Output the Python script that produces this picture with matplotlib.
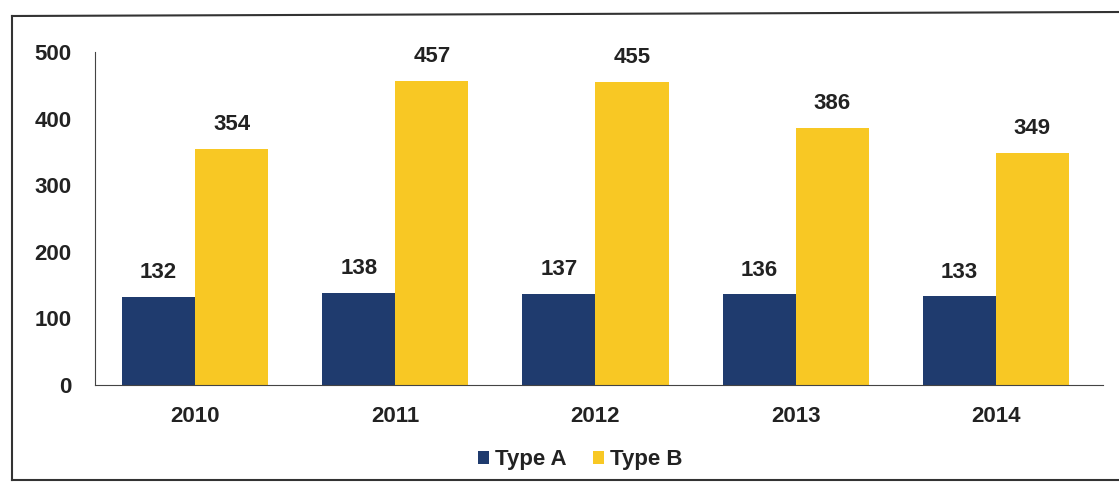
import matplotlib.pyplot as plt
import numpy as np
from matplotlib.lines import Line2D

# Data
years = ["2010", "2011", "2012", "2013", "2014"]
type_a = [132, 138, 137, 136, 133]
type_b = [354, 457, 455, 386, 349]
yticks = [0, 100, 200, 300, 400, 500]

COLOR_A = "#1f3b6e"
COLOR_B = "#f8c824"
TXT = "#222222"

plt.rcParams['font.family'] = ['Liberation Sans', 'DejaVu Sans']

fig = plt.figure(figsize=(11.19, 4.84), dpi=100)
ax = fig.add_axes([95 / 1119, 99 / 484, 1008 / 1119, 333 / 484])

x = np.arange(len(years))
w = 0.365
bars_a = ax.bar(x - w / 2, type_a, w, color=COLOR_A, label="Type A")
bars_b = ax.bar(x + w / 2, type_b, w, color=COLOR_B, label="Type B")

for bars in (bars_a, bars_b):
  for b in bars:
    ax.annotate(f"{int(b.get_height())}", (b.get_x() + b.get_width() / 2, b.get_height()),
                xytext=(0, 10), textcoords="offset points", ha="center", va="bottom",
                fontsize=16, fontweight="bold", color=TXT)

ax.set_xlim(-0.5, len(years) - 0.5 + 0.035)
ax.set_ylim(0, 500)
ax.set_yticks(yticks)
ax.set_xticks(x)
ax.set_xticklabels(years)
ax.tick_params(axis="both", length=0, labelsize=16, colors=TXT)
ax.tick_params(axis="y", pad=17)
ax.tick_params(axis="x", pad=15)
for lab in ax.get_xticklabels() + ax.get_yticklabels():
  lab.set_fontweight("bold")

for s in ("top", "right"):
  ax.spines[s].set_visible(False)
ax.spines["left"].set_color("#444444")
ax.spines["bottom"].set_color("#444444")

leg = fig.legend(handles=[bars_a, bars_b], loc="center", bbox_to_anchor=(580 / 1119, 1 - 460 / 484),
                 ncol=2, frameon=False, fontsize=16, handlelength=0.5, handleheight=0.5,
                 handletextpad=0.25, columnspacing=1.2)
for t in leg.get_texts():
  t.set_fontweight("bold")
  t.set_color(TXT)

# outer frame (left, top, bottom; right edge runs off the image)
W, H = 1119, 484
fr = dict(transform=fig.transFigure, color="#333333", lw=1.5)
fig.lines.append(Line2D([12 / W, 12 / W], [1 - 480 / H, 1 - 16 / H], **fr))
fig.lines.append(Line2D([12 / W, 1.0], [1 - 16 / H, 1 - 12 / H], **fr))
fig.lines.append(Line2D([12 / W, 1.0], [1 - 480 / H, 1 - 480 / H], **fr))

fig.savefig("out.png", dpi=100)
